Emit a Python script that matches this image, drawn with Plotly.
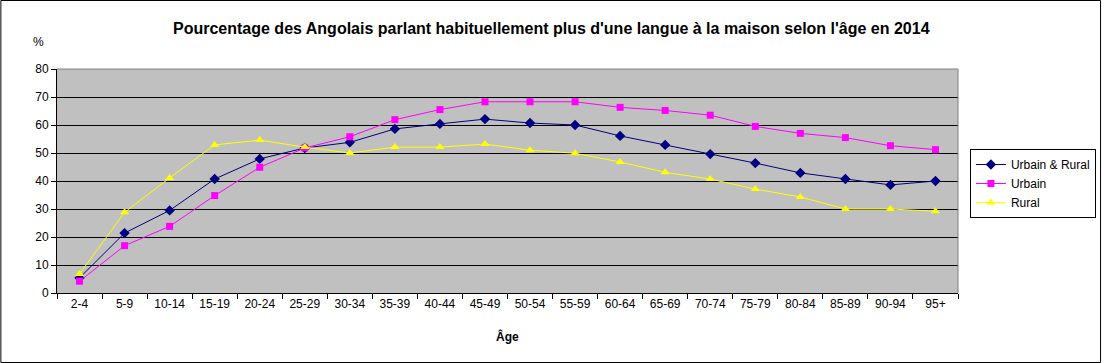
import plotly.graph_objects as go

categories = ["2-4", "5-9", "10-14", "15-19", "20-24", "25-29", "30-34", "35-39", "40-44", "45-49",
              "50-54", "55-59", "60-64", "65-69", "70-74", "75-79", "80-84", "85-89", "90-94", "95+"]
urbain_rural = [5.4, 21.4, 29.5, 40.7, 47.9, 51.8, 53.8, 58.6, 60.4, 62.1,
                60.7, 60.0, 56.1, 52.9, 49.6, 46.4, 42.9, 40.7, 38.6, 40.0]
urbain = [4.2, 16.9, 23.8, 34.8, 44.9, 51.8, 55.8, 61.9, 65.5, 68.3,
          68.3, 68.3, 66.3, 65.2, 63.5, 59.5, 57.0, 55.5, 52.6, 51.2]
rural = [6.8, 28.8, 41.1, 52.9, 54.6, 52.1, 50.0, 52.1, 52.1, 53.2,
         51.0, 49.9, 46.8, 43.1, 40.7, 37.1, 34.3, 30.0, 30.0, 29.2]

FONT = "Liberation Sans, Arial, sans-serif"
W, H = 1108, 363
L, R, T, B = 57, 144, 69, 70
PW, PH = W - L - R, H - T - B

def px_x(p):
    return (p - L) / PW

def px_y(p):
    return (H - B - p) / PH

fig = go.Figure()
fig.add_trace(go.Scatter(x=categories, y=urbain_rural, name="Urbain & Rural", mode="lines+markers",
                         line=dict(color="#000080", width=1),
                         marker=dict(symbol="diamond", size=8, color="#000080")))
fig.add_trace(go.Scatter(x=categories, y=urbain, name="Urbain", mode="lines+markers",
                         line=dict(color="#FF00FF", width=1),
                         marker=dict(symbol="square", size=7, color="#FF00FF")))
fig.add_trace(go.Scatter(x=categories, y=rural, name="Rural", mode="lines+markers",
                         line=dict(color="#FFFF00", width=1),
                         marker=dict(symbol="triangle-up", size=8, color="#FFFF00")))

fig.update_layout(
    width=W, height=H,
    margin=dict(l=L, r=R, t=T, b=B),
    paper_bgcolor="white", plot_bgcolor="#C0C0C0",
    font=dict(family=FONT, size=12, color="black"),
    showlegend=True,
    legend=dict(x=px_x(976), y=px_y(149), xanchor="left", yanchor="top",
                bgcolor="white", bordercolor="black", borderwidth=1,
                font=dict(family=FONT, size=12, color="black"),
                tracegroupgap=0, itemwidth=30),
    xaxis=dict(type="category", range=[-0.5, 19.5], showgrid=False, showline=True,
               linecolor="black", linewidth=1, ticks="outside", ticklen=5, tickcolor="black",
               tickson="boundaries", tickfont=dict(size=12), zeroline=False, fixedrange=True),
    yaxis=dict(range=[0, 80], dtick=10, showgrid=True, gridcolor="black", gridwidth=1,
               showline=True, linecolor="black", linewidth=1, ticks="outside", ticklen=5,
               tickcolor="black", tickfont=dict(size=12), zeroline=False, fixedrange=True),
    shapes=[
        dict(type="line", xref="paper", yref="paper", x0=0, x1=1, y0=1, y1=1,
             line=dict(color="#808080", width=1)),
        dict(type="line", xref="paper", yref="paper", x0=1, x1=1, y0=0, y1=1,
             line=dict(color="#808080", width=1)),
        dict(type="rect", xref="paper", yref="paper",
             x0=px_x(0.5), x1=px_x(W - 0.5), y0=px_y(H - 0.5), y1=px_y(0.5),
             line=dict(color="black", width=1), fillcolor="rgba(0,0,0,0)", layer="above"),
    ],
    annotations=[
        dict(text="<b>Pourcentage des Angolais parlant habituellement plus d'une langue à la maison selon l'âge en 2014</b>",
             xref="paper", yref="paper", x=px_x(555), y=px_y(28), xanchor="center", yanchor="middle",
             showarrow=False, font=dict(family=FONT, size=16, color="black")),
        dict(text="%", xref="paper", yref="paper", x=px_x(38), y=px_y(42), xanchor="center", yanchor="middle",
             showarrow=False, font=dict(family=FONT, size=12, color="black")),
        dict(text="<b>Âge</b>", xref="paper", yref="paper", x=px_x(510), y=px_y(336), xanchor="center",
             yanchor="middle", showarrow=False, font=dict(family=FONT, size=12, color="black")),
    ],
)

fig.write_html(
    "out.html",
    config={"displayModeBar": False},
    post_script=("document.documentElement.style.margin='0';document.documentElement.style.overflow='hidden';"
                 "document.body.style.margin='0';document.body.style.padding='0';"
                 "document.body.style.overflow='hidden';"),
)
